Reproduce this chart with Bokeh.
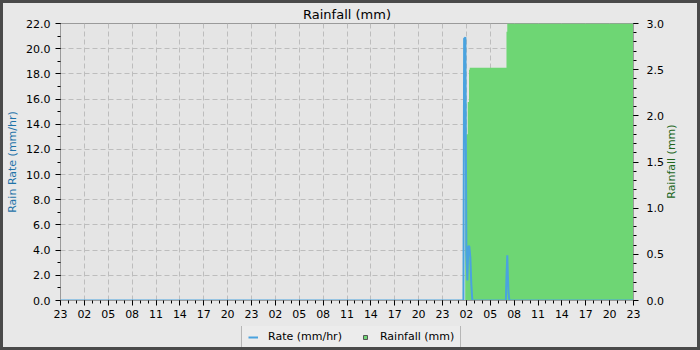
import math
from bokeh.plotting import figure
from bokeh.layouts import column, row
from bokeh.models import (Range1d, LinearAxis, FixedTicker, Legend, LegendItem,
                          NumeralTickFormatter, Label)
from bokeh.embed import file_html
from bokeh.resources import INLINE

# ---- data ----
# hours since 23:00 on the first day
tick_hours = list(range(0, 73, 3))
tick_labels = ["23", "02", "05", "08", "11", "14", "17", "20",
               "23", "02", "05", "08", "11", "14", "17", "20",
               "23", "02", "05", "08", "11", "14", "17", "20", "23"]

rate_hours = [0, 50.63, 50.72, 50.88, 51.0, 51.12, 51.25, 51.37, 51.5, 51.62, 51.75,
              55.96, 56.04, 56.14, 56.22, 56.3, 56.4, 72]
rate_vals = [0, 0, 20.8, 20.9, 3.7, 1.6, 4.3, 4.3, 3.4, 1.3, 0,
             0, 1.9, 3.6, 1.9, 0.6, 0, 0]

rain_hours = [0, 50.85, 51.0, 51.17, 51.33, 51.42, 51.5, 56.04, 56.14, 72]
rain_vals = [0, 1.52, 1.80, 2.15, 2.50, 2.52, 2.52, 2.91, 3.0, 3.0]

RATE_COLOR = "#4aa3df"
RAIN_COLOR = "#6ed674"
BG = "#e8e8e8"
FONT = "DejaVu Sans"
B = 3          # outer border width
LEG_H = 21     # height of the legend strip
RW = 31        # width of the strip holding the right axis title

W = 700 - 2 * B
H_MAIN = 350 - 2 * B - LEG_H
W_MAIN = W - RW

p = figure(width=W_MAIN, height=H_MAIN, output_backend="svg", toolbar_location=None,
           x_range=Range1d(0, 72), y_range=Range1d(0, 22),
           min_border_left=55 - B, min_border_right=(B + W_MAIN) - 633, min_border_top=23 - B,
           min_border_bottom=H_MAIN - (300 - B),
           background_fill_color="#e5e5e5", border_fill_color=BG,
           outline_line_color="#9a9a9a", title="Rainfall (mm)")

p.title.align = "center"
p.title.text_font = FONT
p.title.text_font_size = "13px"
p.title.text_font_style = "normal"
p.title.text_color = "#000000"
p.title.standoff = 3
p.title.offset = 8

p.extra_y_ranges = {"rain": Range1d(0, 3.0)}

p.varea_step(x=rain_hours, y1=[0] * len(rain_hours), y2=rain_vals, step_mode="after",
             fill_color=RAIN_COLOR, y_range_name="rain")
p.line(rate_hours, rate_vals, line_color=RATE_COLOR, line_width=2)

# axes
xa = p.xaxis[0]
xa.ticker = FixedTicker(ticks=tick_hours, minor_ticks=list(range(0, 73)))
xa.major_label_overrides = {h: l for h, l in zip(tick_hours, tick_labels)}

ya = p.yaxis[0]
ya.ticker = FixedTicker(ticks=[i * 2 for i in range(12)], minor_ticks=list(range(0, 23)))
ya.formatter = NumeralTickFormatter(format="0.0")
ya.axis_label = "Rain Rate (mm/hr)"
ya.axis_label_text_color = "#1f73a8"

ra = LinearAxis(y_range_name="rain")
ra.ticker = FixedTicker(ticks=[0, 0.5, 1.0, 1.5, 2.0, 2.5, 3.0],
                        minor_ticks=[i / 10 for i in range(31)])
ra.formatter = NumeralTickFormatter(format="0.0")
p.add_layout(ra, "right")

for ax in (xa, ya, ra):
    ax.major_label_text_font = FONT
    ax.major_label_text_font_size = "11px"
    ax.major_label_text_color = "#000000"
    ax.axis_label_text_font = FONT
    ax.axis_label_text_font_size = "11px"
    ax.axis_label_text_font_style = "normal"
    ax.axis_line_color = "#9a9a9a"
    ax.major_tick_line_color = "#000000"
    ax.minor_tick_line_color = "#000000"
    ax.major_tick_out = 5
    ax.major_tick_in = 0
    ax.minor_tick_out = 3
    ax.minor_tick_in = 0
    ax.axis_label_standoff = 4
xa.major_label_standoff = 4
ya.major_label_standoff = 5
ra.major_label_standoff = 8

p.xgrid.grid_line_color = "#bdbdbd"
p.xgrid.grid_line_dash = "5 3"
p.ygrid.grid_line_color = "#bdbdbd"
p.ygrid.grid_line_dash = "5 3"

# ---- right axis title strip ----
rf = figure(width=RW, height=H_MAIN, output_backend="svg", toolbar_location=None,
            x_range=Range1d(0, RW), y_range=Range1d(0, H_MAIN),
            x_axis_location=None, y_axis_location=None,
            min_border=0, background_fill_color=BG, border_fill_color=BG,
            outline_line_color=None)
rf.grid.visible = False
rf.add_layout(Label(x=671 - (B + W_MAIN), y=H_MAIN - (164 - B), text="Rainfall (mm)",
                    angle=math.pi / 2, text_align="center", text_baseline="middle",
                    text_font=FONT, text_font_size="11px", text_color="#22661a"))

# ---- legend strip ----
lf = figure(width=W, height=LEG_H, output_backend="svg", toolbar_location=None,
            x_range=Range1d(0, 1), y_range=Range1d(0, 1),
            x_axis_location=None, y_axis_location=None,
            min_border=0, background_fill_color=BG, border_fill_color=BG,
            outline_line_color=None)
lf.grid.visible = False
l_rate = lf.line([5, 6], [5, 6], line_color=RATE_COLOR, line_width=2)
l_rain = lf.scatter([5], [5], marker="square", size=8, fill_color=RAIN_COLOR,
                    line_color="#555555")

legend = Legend(items=[LegendItem(label="Rate (mm/hr)", renderers=[l_rate]),
                       LegendItem(label="Rainfall (mm)", renderers=[l_rain])],
                orientation="horizontal", location=(238, -3), margin=0,
                padding=6, spacing=18, label_standoff=10, glyph_width=10, glyph_height=10,
                label_text_font=FONT, label_text_font_size="11px",
                label_text_color="#000000",
                background_fill_color="#ececec", background_fill_alpha=1.0,
                border_line_color="#808080")
lf.add_layout(legend, "center")

layout = column(row(p, rf, spacing=0), lf, spacing=0,
                styles={"border": "%dpx solid #4a4a4a" % B, "background-color": BG})

open("out.html", "w").write(file_html(layout, INLINE))
